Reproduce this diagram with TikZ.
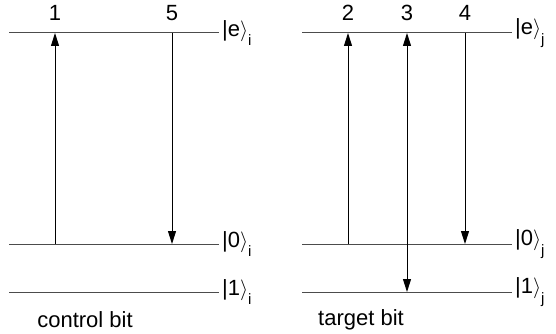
\documentclass[tikz,border=0pt]{standalone}
\usepackage{fontspec}
\setmainfont{Liberation Sans}
\usepackage{tikz}
\usetikzlibrary{positioning,arrows.meta}
\newcommand{\ketlbl}[2]{|#1$\rangle$\raisebox{-0.8ex}{\fontsize{15}{16}\selectfont #2}}

\begin{document}
\begin{tikzpicture}[x=1pt, y=-1pt, every node/.style={font=\fontsize{22}{24}\selectfont, inner sep=0pt},
    level/.style={line width=1pt, draw=black!70},
    trans/.style={line width=1pt, -{Triangle[length=13pt, width=8pt]}},
    num/.style={anchor=base}, ket/.style={anchor=west}]
    \useasboundingbox (0,0) rectangle (556,334);
    % levels, control bit
    \coordinate (eiL) at (9,33);   \coordinate (eiR) at (219,33);
    \coordinate (0iL) at (9,244);  \coordinate (0iR) at (219,244);
    \coordinate (1iL) at (9,292);  \coordinate (1iR) at (219,292);
    % levels, target bit
    \coordinate (ejL) at (302,33);  \coordinate (ejR) at (512,33);
    \coordinate (0jL) at (302,244); \coordinate (0jR) at (512,244);
    \coordinate (1jL) at (302,292); \coordinate (1jR) at (512,292);
    \foreach \lv in {ei,0i,1i,ej,0j,1j} \draw[level] (\lv L) -- (\lv R);
    \node[ket, right=3pt of eiR] (kei) {\ketlbl{e}{i}};
    \node[ket, right=3pt of 0iR] (k0i) {\ketlbl{0}{i}};
    \node[ket, right=3pt of 1iR] (k1i) {\ketlbl{1}{i}};
    \node[ket, right=3pt of ejR] (kej) {\ketlbl{e}{j}};
    \node[ket, right=3pt of 0jR] (k0j) {\ketlbl{0}{j}};
    \node[ket, right=3pt of 1jR] (k1j) {\ketlbl{1}{j}};
    % transitions
    \coordinate (a1) at (55,244);  \coordinate (b1) at (55,33);
    \coordinate (a5) at (172,33);  \coordinate (b5) at (172,244);
    \coordinate (a2) at (348,244); \coordinate (b2) at (348,33);
    \coordinate (a3) at (407,292); \coordinate (b3) at (407,33);
    \coordinate (a4) at (465,33);  \coordinate (b4) at (465,244);
    \draw[trans] (a1) -- (b1);
    \draw[trans] (a5) -- (b5);
    \draw[trans] (a2) -- (b2);
    \draw[trans, {Triangle[length=13pt, width=8pt]}-{Triangle[length=13pt, width=8pt]}] (a3) -- (b3);
    \draw[trans] (a4) -- (b4);
    \node[num] (n1) at (55,21) {1};
    \node[num] (n5) at (172,21) {5};
    \node[num] (n2) at (348,21) {2};
    \node[num] (n3) at (407,21) {3};
    \node[num] (n4) at (465,21) {4};
    \node (ctl) at (85,320) {control bit};
    \node (tgt) at (361,320) {target bit};
\end{tikzpicture}
\end{document}
